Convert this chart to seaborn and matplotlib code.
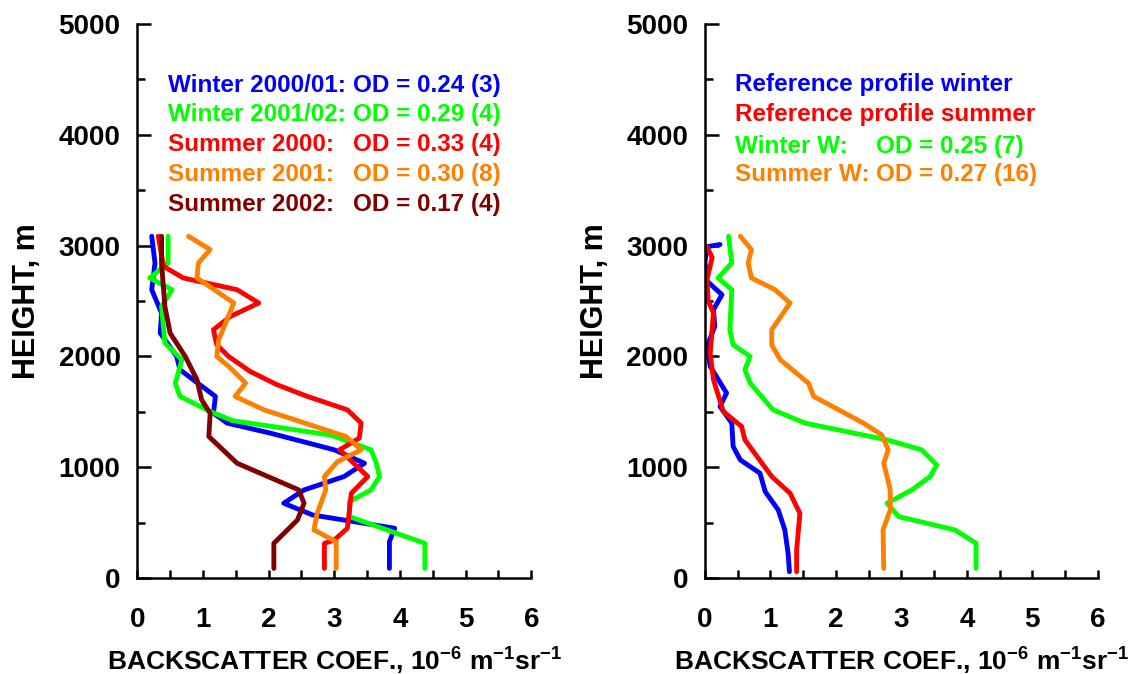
import pandas as pd
import matplotlib
matplotlib.use("Agg")
import matplotlib.pyplot as plt
from matplotlib.ticker import MultipleLocator
import seaborn as sns

# ---- data (x = backscatter, h = height in m) ----
w0001_x = [3.84, 3.84, 3.92, 2.67, 2.23, 2.54, 3.15, 3.46, 3.00, 2.03, 1.37, 1.16, 1.19, 0.65, 0.60, 0.35, 0.37, 0.22, 0.27, 0.22]
w0001_h = [87, 328, 449, 569, 675, 795, 916, 1036, 1157, 1307, 1398, 1488, 1639, 1880, 2000, 2211, 2391, 2602, 2843, 3084]

w0102_x = [4.38, 4.38, 3.23, 3.23, 3.56, 3.69, 3.64, 3.56, 2.95, 1.45, 1.11, 0.65, 0.58, 0.68, 0.42, 0.37, 0.53, 0.19, 0.47, 0.47]
w0102_h = [87, 313, 554, 690, 795, 916, 1036, 1157, 1290, 1420, 1503, 1639, 1759, 1970, 2120, 2452, 2602, 2708, 2843, 3084]

s2000_x = [2.85, 2.85, 3.00, 3.20, 3.26, 3.51, 3.08, 3.38, 3.41, 3.20, 2.59, 2.13, 1.72, 1.39, 1.21, 1.16, 1.42, 1.85, 1.52, 0.70, 0.40, 0.32]
s2000_h = [87, 313, 343, 449, 765, 916, 1157, 1262, 1398, 1518, 1639, 1744, 1864, 2000, 2105, 2241, 2361, 2482, 2602, 2708, 2813, 3084]

s2001_x = [3.03, 3.03, 2.69, 2.74, 2.87, 2.85, 3.05, 3.41, 3.18, 1.93, 1.49, 1.65, 1.42, 1.21, 1.24, 1.47, 0.91, 0.93, 1.11, 0.78]
s2001_h = [87, 328, 434, 584, 795, 916, 1051, 1157, 1277, 1518, 1639, 1759, 1895, 2000, 2150, 2482, 2708, 2843, 2964, 3084]

s2002_x = [2.08, 2.08, 2.44, 2.54, 2.46, 1.52, 1.09, 1.11, 0.98, 0.91, 0.73, 0.50, 0.42, 0.37, 0.37]
s2002_h = [87, 313, 524, 675, 795, 1036, 1277, 1488, 1608, 1789, 2000, 2211, 2452, 2843, 3084]

refw_x = [1.29, 1.27, 1.22, 1.12, 0.92, 0.84, 0.54, 0.43, 0.41, 0.23, 0.33, 0.08, 0.03, 0.15, 0.13, 0.26, 0.03, 0.00, 0.03, 0.23]
refw_h = [57, 223, 434, 614, 780, 946, 1066, 1187, 1398, 1548, 1669, 1910, 2090, 2271, 2422, 2557, 2680, 2850, 2990, 3010]

refs_x = [1.40, 1.40, 1.45, 1.30, 1.02, 0.61, 0.56, 0.28, 0.13, 0.08, 0.13, 0.05, 0.03, 0.11, 0.03]
refs_h = [57, 253, 584, 765, 916, 1247, 1367, 1503, 1789, 2030, 2392, 2500, 2693, 2892, 2991]

winw_x = [4.14, 4.14, 3.82, 2.96, 2.78, 3.16, 3.44, 3.54, 3.31, 2.78, 1.53, 1.04, 0.69, 0.61, 0.69, 0.43, 0.38, 0.41, 0.20, 0.41, 0.36]
winw_h = [87, 313, 434, 554, 675, 795, 916, 1021, 1157, 1247, 1398, 1518, 1759, 1880, 2000, 2105, 2241, 2602, 2708, 2843, 3084]

sumw_x = [2.73, 2.72, 2.83, 2.83, 2.73, 2.80, 2.70, 2.42, 1.66, 1.58, 1.15, 1.02, 1.02, 1.30, 1.07, 0.71, 0.66, 0.71, 0.54]
sumw_h = [87, 434, 614, 795, 1036, 1157, 1292, 1398, 1639, 1759, 1970, 2105, 2241, 2482, 2602, 2708, 2843, 2964, 3084]

left_labels = ["Winter 2000/01:", "Winter 2001/02:", "Summer 2000:", "Summer 2001:", "Summer 2002:"]
left_od = ["OD = 0.24 (3)", "OD = 0.29 (4)", "OD = 0.33 (4)", "OD = 0.30 (8)", "OD = 0.17 (4)"]
left_colors = ["#0000ff", "#00ff00", "#ff0000", "#ff8000", "#800000"]

right_labels = ["Reference profile winter", "Reference profile summer", "Winter W:", "Summer W:"]
right_od = ["", "", "OD = 0.25 (7)", "OD = 0.27 (16)"]
right_colors = ["#0000ff", "#ff0000", "#00ff00", "#ff8000"]


def make_df(xs, hs, names):
    rows = []
    for x, h, n in zip(xs, hs, names):
        rows += [{"x": a, "h": b, "series": n} for a, b in zip(x, h)]
    return pd.DataFrame(rows)


df_left = make_df([w0001_x, w0102_x, s2000_x, s2001_x, s2002_x],
                  [w0001_h, w0102_h, s2000_h, s2001_h, s2002_h], left_labels)
df_right = make_df([refw_x, refs_x, winw_x, sumw_x],
                   [refw_h, refs_h, winw_h, sumw_h], right_labels)

sns.set_style("ticks")
plt.rcParams["font.family"] = ["Liberation Sans", "DejaVu Sans"]
plt.rcParams["font.weight"] = "bold"
plt.rcParams["text.color"] = "black"
plt.rcParams["axes.labelcolor"] = "black"
plt.rcParams["xtick.color"] = "black"
plt.rcParams["ytick.color"] = "black"
plt.rcParams["axes.edgecolor"] = "black"
plt.rcParams["mathtext.fontset"] = "custom"
plt.rcParams["mathtext.rm"] = "Liberation Sans:bold"
plt.rcParams["mathtext.bf"] = "Liberation Sans:bold"
plt.rcParams["axes.unicode_minus"] = False

fig = plt.figure(figsize=(11.42, 6.74), dpi=100)
ax1 = fig.add_axes([0.1202, 0.1424, 0.3450, 0.8220])
ax2 = fig.add_axes([0.6173, 0.1424, 0.3440, 0.8220])

xlab = r"BACKSCATTER COEF., 10$^{-6}$ m$^{-1}$sr$^{-1}$"

for ax, df, labels, colors in [(ax1, df_left, left_labels, left_colors),
                               (ax2, df_right, right_labels, right_colors)]:
    sns.lineplot(data=df, x="x", y="h", hue="series", palette=dict(zip(labels, colors)),
                 sort=False, estimator=None, linewidth=3.5, legend=False, ax=ax)
    ax.set_xlim(0, 6)
    ax.set_ylim(0, 5000)
    ax.xaxis.set_major_locator(MultipleLocator(1))
    ax.xaxis.set_minor_locator(MultipleLocator(0.5))
    ax.yaxis.set_major_locator(MultipleLocator(1000))
    ax.yaxis.set_minor_locator(MultipleLocator(500))
    ax.tick_params(which="both", direction="in", width=1.8)
    ax.tick_params(axis="x", which="both", length=6)
    ax.tick_params(axis="y", which="major", length=10)
    ax.tick_params(axis="y", which="minor", length=6)
    ax.tick_params(axis="x", labelsize=20, pad=21)
    ax.tick_params(axis="y", labelsize=20, pad=12)
    for s in ["top", "right"]:
        ax.spines[s].set_visible(False)
    for s in ["left", "bottom"]:
        ax.spines[s].set_linewidth(1.8)
    ax.set_xlabel(xlab, fontsize=19, fontweight="bold", labelpad=8)
    ax.set_ylabel("HEIGHT, m", fontsize=22, fontweight="bold", labelpad=12)

# text legends
left_y = [4446, 4184, 3913, 3642, 3370]
for lab, od, c, y in zip(left_labels, left_od, left_colors, left_y):
    ax1.text(0.47, y, lab, color=c, fontsize=17.5, fontweight="bold", va="center")
    ax1.text(3.28, y, od, color=c, fontsize=17.5, fontweight="bold", va="center")

right_y = [4455, 4184, 3895, 3642]
for lab, od, c, y in zip(right_labels, right_od, right_colors, right_y):
    ax2.text(0.46, y, lab, color=c, fontsize=17.5, fontweight="bold", va="center")
    if od:
        ax2.text(2.61, y, od, color=c, fontsize=17.5, fontweight="bold", va="center")

fig.savefig("out.png", dpi=100)
